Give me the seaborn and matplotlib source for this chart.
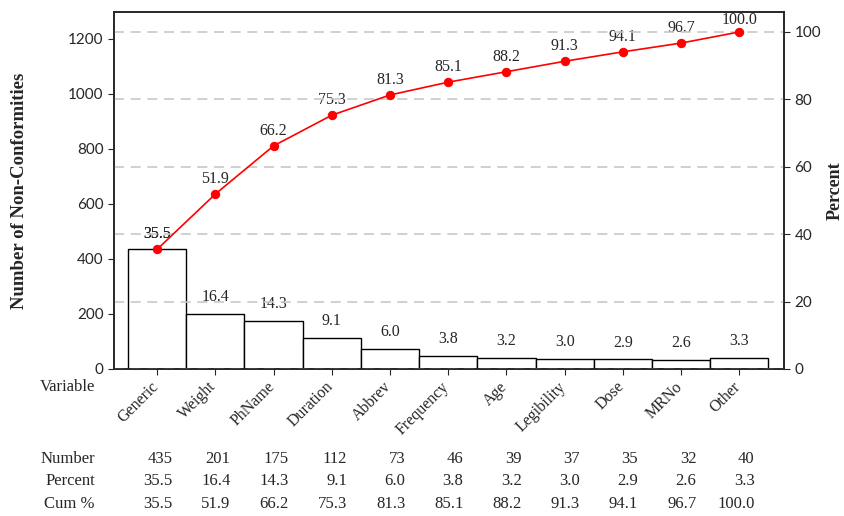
import numpy as np
import pandas as pd
import seaborn as sns
import matplotlib.pyplot as plt
import matplotlib.transforms as mtransforms

# data
variables = ['Generic', 'Weight', 'PhName', 'Duration', 'Abbrev', 'Frequency',
             'Age', 'Legibility', 'Dose', 'MRNo', 'Other']
counts = [435, 201, 175, 112, 73, 46, 39, 37, 35, 32, 40]
percents = [35.5, 16.4, 14.3, 9.1, 6.0, 3.8, 3.2, 3.0, 2.9, 2.6, 3.3]
cum_pct = [35.5, 51.9, 66.2, 75.3, 81.3, 85.1, 88.2, 91.3, 94.1, 96.7, 100.0]

df = pd.DataFrame({'variable': variables, 'count': counts,
                   'pct': percents, 'cum': cum_pct})
total = sum(counts)

sns.set_style('ticks')
serif = ['Liberation Serif', 'DejaVu Serif']
sans = ['Lato', 'DejaVu Sans']

fig = plt.figure(figsize=(8.45, 5.16), dpi=100)
ax1 = fig.add_axes([0.135, 0.285, 0.793, 0.692])

sns.barplot(data=df, x='variable', y='count', ax=ax1, color='white',
            edgecolor='black', linewidth=1, width=1.0, saturation=1)
ymax = 1298
ax1.set_ylim(0, ymax)
ax1.set_xlim(-0.74, 10.77)
ax1.set_yticks([0, 200, 400, 600, 800, 1000, 1200])
ax1.set_ylabel('Number of Non-Conformities', family=serif, fontweight='bold',
               fontsize=13.5)
ax1.yaxis.set_label_coords(-0.128, 0.5)
ax1.set_xlabel('')
ax1.tick_params(axis='y', labelsize=11, length=4)
for lab in ax1.get_yticklabels():
    lab.set_family(sans)
ax1.set_xticks(range(len(variables)))
ax1.set_xticklabels(variables, rotation=45, ha='right', rotation_mode='anchor',
                    family=serif, fontsize=11.5)
ax1.tick_params(axis='x', length=4, pad=3)
shift = mtransforms.ScaledTranslation(-5 / 72, 0, fig.dpi_scale_trans)
for lab in ax1.get_xticklabels():
    lab.set_transform(lab.get_transform() + shift)

# percent labels above bars (first one sits with the cumulative label)
for i, (c, p) in enumerate(zip(counts, percents)):
    y = cum_pct[0] / 100 * total + 26 if i == 0 else c + 32
    ax1.text(i, y, f'{p:.1f}', ha='center', va='bottom',
             family=serif, fontsize=11.5)

ax2 = ax1.twinx()
ax2.set_ylim(0, ymax / total * 100)
sns.lineplot(x=np.arange(len(variables)), y=cum_pct, ax=ax2, color='red',
             marker='o', markersize=6, markeredgecolor='red', linewidth=1.2)
ax2.set_yticks([0, 20, 40, 60, 80, 100])
ax2.tick_params(axis='y', labelsize=11, length=4)
for lab in ax2.get_yticklabels():
    lab.set_family(sans)
ax2.yaxis.grid(True, color='#c8c8c8', linestyle=(0, (6, 4)), linewidth=1.2)
ax2.set_axisbelow(True)
ax2.set_ylabel('Percent', family=serif, fontweight='bold', fontsize=13)
ax2.yaxis.set_label_coords(1.064, 0.5)
for i, c in enumerate(cum_pct):
    off = 16 if c >= 100 else 26
    ax1.text(i, c / 100 * total + off, f'{c:.1f}', ha='center', va='bottom',
             family=serif, fontsize=11.5)

for ax in (ax1, ax2):
    for s in ax.spines.values():
        s.set_visible(True)
        s.set_linewidth(1.2)

# table below the chart
trans = mtransforms.blended_transform_factory(ax1.transData, fig.transFigure)
fig.text(0.1124, 0.25, 'Variable', ha='right', va='center',
         family=serif, fontsize=12)
rows = [('Number', [str(c) for c in counts], 0.110),
        ('Percent', [f'{p:.1f}' for p in percents], 0.068),
        ('Cum %', [f'{c:.1f}' for c in cum_pct], 0.024)]
for name, vals, y in rows:
    fig.text(0.1124, y, name, ha='right', va='center', family=serif, fontsize=12)
    for i, v in enumerate(vals):
        ax1.text(i + 0.26, y, v, ha='right', va='center', transform=trans,
                 family=serif, fontsize=12)

fig.savefig('out.png', dpi=100)
